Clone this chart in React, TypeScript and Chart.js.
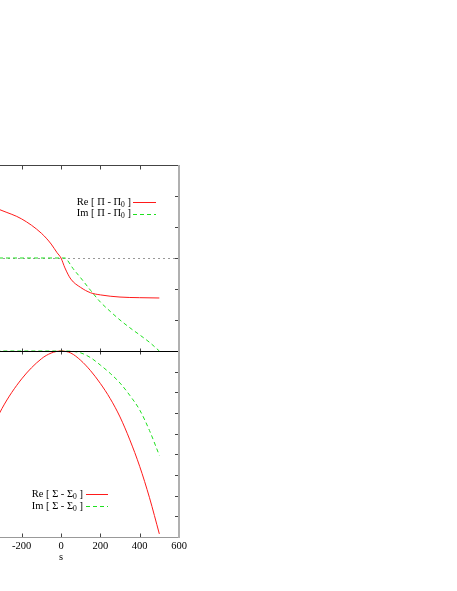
import { useEffect, useRef } from 'react';
import { Chart, registerables } from 'chart.js';

Chart.register(...registerables);

// ---- data ----
const sTopRe = [-600, -500, -400, -300, -200, -100, -50, -20, 0, 20, 50, 100, 150, 200, 300, 400, 500];
const reTop = [2.15, 1.98, 1.78, 1.53, 1.26, 0.8, 0.45, 0.17, 0, -0.32, -0.68, -0.95, -1.12, -1.19, -1.26, -1.28, -1.29];

const sTopIm = [-600, -300, 0, 20, 30, 60, 100, 150, 200, 250, 300, 350, 400, 450, 500];
const imTop = [0, 0, 0, 0, -0.05, -0.33, -0.64, -1.04, -1.42, -1.72, -2.0, -2.25, -2.48, -2.72, -3.0];

const sBotRe = [-400, -300, -200, -100, -50, 0, 50, 100, 150, 200, 250, 300, 350, 400, 450, 500];
const reBot = [-4.8, -2.78, -1.35, -0.38, -0.1, 0, -0.1, -0.45, -0.95, -1.57, -2.3, -3.19, -4.3, -5.58, -7.1, -8.85];

const sBotIm = [-400, 0, 50, 100, 150, 200, 250, 300, 350, 400, 450, 500];
const imBot = [0, 0, -0.01, -0.09, -0.32, -0.68, -1.08, -1.55, -2.15, -2.85, -3.85, -5.05];

const xTicks = [-600, -400, -200, 0, 200, 400, 600];
const topTicks = [2, 1, 0, -1, -2];
const botTicks = [-1, -2, -3, -4, -5, -6, -7, -8];

const labels = ['Re [ Π - Π_0 ]', 'Im [ Π - Π_0 ]', 'Re [ Σ - Σ_0 ]', 'Im [ Σ - Σ_0 ]'];

const RED = '#ff1a1a';
const GREEN = '#1ee01e';
const FONT = 'Liberation Serif';
const FS = 10.5;

function pts(xs: number[], ys: number[]) {
  return xs.map((x, i) => ({ x, y: ys[i] }));
}

function drawLabel(ctx: CanvasRenderingContext2D, label: string, right: number, y: number) {
  const idx = label.indexOf('_');
  const main = label.slice(0, idx);
  const sub = label.slice(idx + 1, idx + 2);
  const rest = label.slice(idx + 2);
  const mainFont = `${FS}px "${FONT}"`;
  const subFont = `${FS * 0.72}px "${FONT}"`;
  ctx.font = mainFont;
  const w1 = ctx.measureText(main).width;
  const w3 = ctx.measureText(rest).width;
  ctx.font = subFont;
  const w2 = ctx.measureText(sub).width;
  let x = right - (w1 + w2 + w3);
  ctx.fillStyle = '#000';
  ctx.textBaseline = 'middle';
  ctx.textAlign = 'left';
  ctx.font = mainFont;
  ctx.fillText(main, x, y);
  x += w1;
  ctx.font = subFont;
  ctx.fillText(sub, x, y + 3);
  x += w2;
  ctx.font = mainFont;
  ctx.fillText(rest, x, y);
}

const framePlugin = {
  id: 'gnuframe',
  beforeDatasetsDraw(chart: any) {
    const { ctx, chartArea: a, scales } = chart;
    const y0 = Math.round(scales.yTop.getPixelForValue(0)) + 0.5;
    ctx.save();
    ctx.beginPath();
    ctx.rect(a.left, a.top, a.right - a.left, a.bottom - a.top);
    ctx.clip();
    ctx.strokeStyle = '#999';
    ctx.lineWidth = 1;
    ctx.setLineDash([2, 3]);
    ctx.beginPath();
    ctx.moveTo(a.left, y0);
    ctx.lineTo(a.right, y0);
    ctx.stroke();
    ctx.setLineDash([]);
    ctx.restore();
  },
  afterDatasetsDraw(chart: any) {
    const { ctx, chartArea: a, scales } = chart;
    const xs = scales.x;
    const yT = scales.yTop;
    const yB = scales.yBot;
    const top = Math.round(a.top) + 0.5;
    const mid = Math.round(yB.getPixelForValue(0)) + 0.5;
    const bot = Math.round(a.bottom) + 0.5;
    const right = Math.round(a.right);
    const left = Math.round(a.left) + 0.5;
    const TL = 4;
    ctx.save();
    ctx.setLineDash([]);
    ctx.lineWidth = 1;
    // ticks
    ctx.strokeStyle = '#444';
    ctx.beginPath();
    for (const v of xTicks) {
      const px = Math.round(xs.getPixelForValue(v)) + 0.5;
      ctx.moveTo(px, top); ctx.lineTo(px, top + TL);
      ctx.moveTo(px, mid - TL + 1); ctx.lineTo(px, mid + TL - 1);
      ctx.moveTo(px, bot); ctx.lineTo(px, bot - TL);
    }
    for (const v of topTicks) {
      const py = Math.round(yT.getPixelForValue(v)) + 0.5;
      ctx.moveTo(right, py); ctx.lineTo(right - TL, py);
      ctx.moveTo(left, py); ctx.lineTo(left + TL, py);
    }
    for (const v of botTicks) {
      const py = Math.round(yB.getPixelForValue(v)) + 0.5;
      ctx.moveTo(right, py); ctx.lineTo(right - TL, py);
      ctx.moveTo(left, py); ctx.lineTo(left + TL, py);
    }
    ctx.stroke();
    // frame
    ctx.strokeStyle = '#444';
    ctx.beginPath(); ctx.moveTo(left, top); ctx.lineTo(right, top); ctx.stroke();
    ctx.strokeStyle = '#000';
    ctx.beginPath(); ctx.moveTo(left, mid); ctx.lineTo(right, mid); ctx.stroke();
    ctx.strokeStyle = '#999';
    ctx.beginPath(); ctx.moveTo(left, bot); ctx.lineTo(right, bot); ctx.stroke();
    ctx.beginPath(); ctx.moveTo(left, top); ctx.lineTo(left, bot); ctx.stroke();
    ctx.strokeStyle = '#b0b0b0';
    ctx.lineWidth = 2;
    ctx.beginPath(); ctx.moveTo(right, top - 0.5); ctx.lineTo(right, bot + 0.5); ctx.stroke();

    // legends
    const groups = [
      { ids: [0, 1], textRight: a.right - 48, lineStart: a.right - 46, lineEnd: a.right - 23, rows: [a.top + 37, a.top + 48.5] },
      { ids: [2, 3], textRight: a.right - 96, lineStart: a.right - 93, lineEnd: a.right - 71, rows: [a.top + 329, a.top + 341] },
    ];
    for (const g of groups) {
      g.ids.forEach((id, k) => {
        const ds = chart.data.datasets[id];
        const y = g.rows[k];
        drawLabel(ctx, ds.label, g.textRight, y);
        ctx.strokeStyle = ds.borderColor;
        ctx.lineWidth = 1;
        ctx.setLineDash(ds.borderDash || []);
        ctx.beginPath();
        ctx.moveTo(g.lineStart, Math.round(y) + 0.5);
        ctx.lineTo(g.lineEnd, Math.round(y) + 0.5);
        ctx.stroke();
        ctx.setLineDash([]);
      });
    }
    ctx.restore();
  },
};

export default function App() {
  const ref = useRef<HTMLCanvasElement | null>(null);
  useEffect(() => {
    if (!ref.current) return;
    const font = { family: FONT, size: FS };
    const common = { pointRadius: 0, borderWidth: 1, fill: false, cubicInterpolationMode: 'monotone' as const };
    const chart = new Chart(ref.current, {
      type: 'line',
      data: {
        datasets: [
          { ...common, label: labels[0], data: pts(sTopRe, reTop), borderColor: RED, xAxisID: 'x', yAxisID: 'yTop' },
          { ...common, label: labels[1], data: pts(sTopIm, imTop), borderColor: GREEN, borderDash: [4, 3], xAxisID: 'x', yAxisID: 'yTop' },
          { ...common, label: labels[2], data: pts(sBotRe, reBot), borderColor: RED, xAxisID: 'x', yAxisID: 'yBot' },
          { ...common, label: labels[3], data: pts(sBotIm, imBot), borderColor: GREEN, borderDash: [4, 3], xAxisID: 'x', yAxisID: 'yBot' },
        ],
      },
      options: {
        responsive: false,
        animation: false,
        layout: { padding: { left: 13, right: 20, top: 15, bottom: 4 } },
        plugins: { legend: { display: false }, tooltip: { enabled: false } },
        scales: {
          x: {
            type: 'linear',
            min: -600,
            max: 600,
            ticks: { stepSize: 200, font, color: '#000', padding: 3, maxRotation: 0, autoSkip: false },
            grid: { display: false, drawTicks: false },
            border: { display: false },
            title: { display: true, text: 's', font, color: '#000', padding: { top: 0, bottom: 13 } },
            afterFit: (s: any) => { s.height = 40; },
          },
          yTop: { type: 'linear', min: -9, max: 3, display: false },
          yBot: { type: 'linear', min: -9, max: 9, display: false },
        },
      },
      plugins: [framePlugin],
    });
    return () => chart.destroy();
  }, []);
  return (
    <div style={{ position: 'fixed', left: 0, top: 0, width: 457, height: 591, overflow: 'hidden', background: '#fff' }}>
      <canvas
        ref={ref}
        width={269}
        height={431}
        style={{ position: 'absolute', left: -70, top: 150, width: 269, height: 431 }}
      />
    </div>
  );
}
